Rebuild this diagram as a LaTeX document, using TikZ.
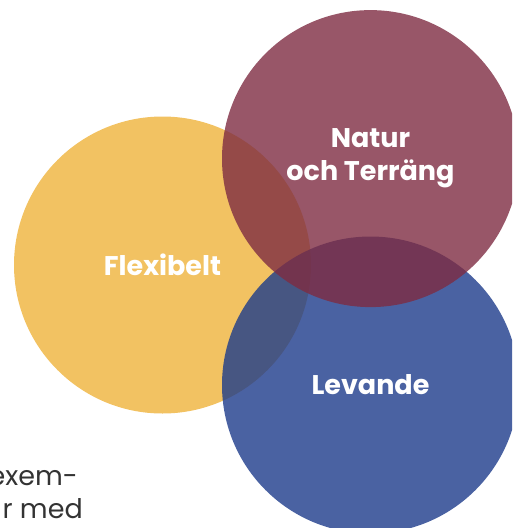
\documentclass[tikz,border=0pt]{standalone}
\usepackage{fontspec}
\setmainfont{Poppins}
\usetikzlibrary{positioning}
\definecolor{gul}{RGB}{242,194,98}
\definecolor{vinrod}{RGB}{126,44,66}
\definecolor{bla}{RGB}{29,59,139}
\definecolor{brodtext}{RGB}{51,51,51}
\tikzset{
    venn/.style={
        circle,
        minimum size=297pt,
        inner sep=0pt,
        text=white,
        align=center,
        font=\fontsize{27}{33}\selectfont\bfseries
    },
    brod/.style={
        anchor=base east,
        inner sep=0pt,
        text=brodtext,
        font=\fontsize{27}{33}\selectfont
    }
}

\begin{document}
\begin{tikzpicture}[x=1pt,y=1pt]
        \useasboundingbox (0,0) rectangle (512,-528);
        \clip (0,0) rectangle (512,-528);

        % the three circles, drawn yellow, blue, red
        \node[venn,fill=gul] (Flexibelt) at (162.5,-265) {Flexibelt};

        \node[venn,fill=bla,fill opacity=0.8,text opacity=1] (Levande) at (370.5,-385) {Levande};

        \node[venn,fill=vinrod,fill opacity=0.8,text opacity=1,
              above=-71pt of Levande] (Natur) {Natur\\och Terräng};

        % running text cut off at the left edge
        \node[brod] (exem) at (78,-485) {exem-};
        \node[brod] (rmed) at (83,-518) {r med};
    \end{tikzpicture}
\end{document}
